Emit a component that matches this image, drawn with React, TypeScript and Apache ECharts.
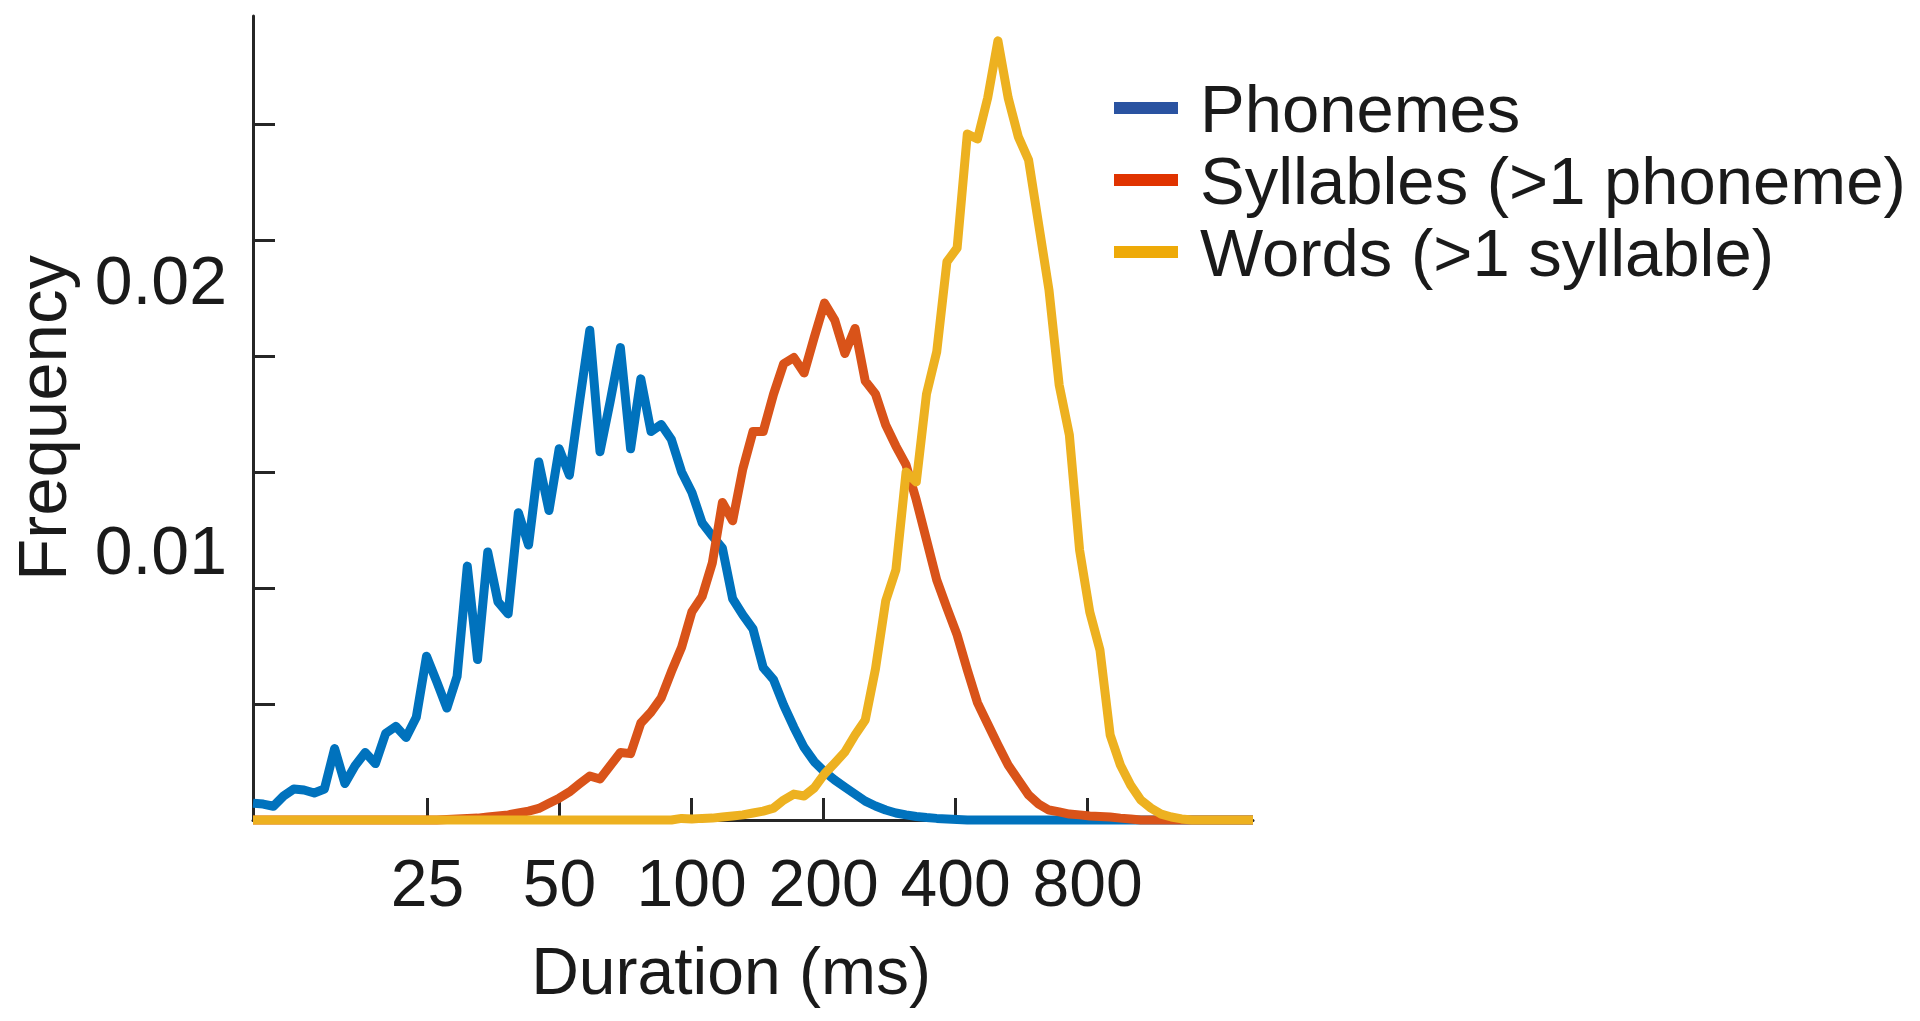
import React, { useEffect, useRef } from "react";
import * as echarts from "echarts";

// Bin centres of the log-spaced histogram (ms)
const durations = [
  10.0, 10.55, 11.13, 11.74, 12.39, 13.07, 13.79, 14.55, 15.35, 16.2,
  17.09, 18.03, 19.02, 20.07, 21.17, 22.34, 23.57, 24.87, 26.24, 27.68,
  29.2, 30.81, 32.51, 34.3, 36.19, 38.18, 40.28, 42.5, 44.84, 47.31,
  49.91, 52.66, 55.56, 58.61, 61.84, 65.24, 68.83, 72.62, 76.62, 80.83,
  85.28, 89.98, 94.93, 100.2, 105.7, 111.5, 117.6, 124.1, 130.9, 138.1,
  145.7, 153.8, 162.2, 171.1, 180.6, 190.5, 201.0, 212.1, 223.7, 236.0,
  249.0, 262.7, 277.2, 292.4, 308.5, 325.5, 343.4, 362.3, 382.3, 403.3,
  425.5, 448.9, 473.6, 499.7, 527.2, 556.2, 586.8, 619.1, 653.2, 689.1,
  727.1, 767.1, 809.3, 853.8, 900.8, 950.4, 1002.7, 1057.9, 1116.1, 1177.5,
  1242.3, 1310.7, 1382.8, 1458.9, 1539.2, 1623.9, 1713.3, 1807.5, 1907.0,
];

const phonemes = [
  0.00062, 0.00059, 0.00051, 0.00089, 0.00115, 0.00111, 0.001, 0.00115, 0.00265, 0.00135,
  0.00201, 0.0025, 0.00209, 0.00321, 0.00347, 0.00306, 0.00381, 0.00607, 0.00513, 0.00415,
  0.00532, 0.00941, 0.00595, 0.00993, 0.00809, 0.00764, 0.01139, 0.01019, 0.01327, 0.01147,
  0.01376, 0.01278, 0.01552, 0.01815, 0.01365, 0.01552, 0.01751, 0.01376, 0.01635, 0.0144,
  0.01466, 0.0141, 0.0129, 0.01214, 0.01102, 0.01053, 0.01008, 0.0082, 0.0076, 0.00708,
  0.00565, 0.0052, 0.00426, 0.00344, 0.00269, 0.00216, 0.00179, 0.00148, 0.00122, 0.00096,
  0.0007, 0.00052, 0.00037, 0.00026, 0.00019, 0.00013, 0.00009, 0.00006, 0.00004, 0.00002,
  0, 0, 0, 0, 0, 0, 0, 0, 0, 0,
  0, 0, 0, 0, 0, 0, 0, 0, 0, 0,
  0, 0, 0, 0, 0, 0, 0, 0, 0,
];

const syllables = [
  0, 0, 0, 0, 0, 0, 0, 0, 0, 0,
  0, 0, 0, 0, 0, 0, 0, 0, 0, 0.00002,
  0.00004, 0.00006, 0.00007, 0.00011, 0.00015, 0.00019, 0.00026, 0.00033, 0.00043, 0.00062,
  0.00081, 0.00104, 0.00134, 0.00163, 0.00152, 0.00201, 0.0025, 0.00246, 0.00359, 0.004,
  0.00453, 0.0055, 0.0064, 0.00772, 0.00828, 0.00952, 0.01177, 0.01109, 0.01301, 0.0144,
  0.0144, 0.01578, 0.01691, 0.01714, 0.01657, 0.01789, 0.01916, 0.01853, 0.01729, 0.01822,
  0.01627, 0.01579, 0.01464, 0.01386, 0.01316, 0.01186, 0.01038, 0.0089, 0.00786, 0.00686,
  0.00556, 0.00434, 0.00356, 0.00278, 0.00204, 0.00148, 0.00093, 0.00059, 0.00037, 0.0003,
  0.00022, 0.00019, 0.00015, 0.00013, 0.00011, 0.00007, 0.00004, 0, 0, 0,
  0, 0, 0, 0, 0, 0, 0, 0, 0,
];

const words = [
  0, 0, 0, 0, 0, 0, 0, 0, 0, 0,
  0, 0, 0, 0, 0, 0, 0, 0, 0, 0,
  0, 0, 0, 0, 0, 0, 0, 0, 0, 0,
  0, 0, 0, 0, 0, 0, 0, 0, 0, 0,
  0, 0, 0.00006, 0.00004, 0.00006, 0.00007, 0.00011, 0.00015, 0.00019, 0.00026,
  0.00033, 0.00044, 0.00074, 0.00096, 0.00089, 0.00119, 0.00171, 0.00211, 0.00252, 0.00315,
  0.00371, 0.0056, 0.00812, 0.00927, 0.0129, 0.01253, 0.01579, 0.01735, 0.02069, 0.0212,
  0.02543, 0.02524, 0.02677, 0.02888, 0.02677, 0.02532, 0.02447, 0.02206, 0.01965, 0.01613,
  0.01427, 0.01001, 0.00771, 0.0063, 0.00315, 0.00204, 0.0013, 0.00074, 0.00044, 0.00022,
  0.00011, 0.00004, 0, 0, 0, 0, 0, 0, 0,
];

const durationTicks = [25, 50, 100, 200, 400, 800];
const frequencyTicks = [0.0043, 0.0086, 0.0129, 0.0172, 0.0215, 0.0258];
const frequencyLabels = [0.01, 0.02];

const seriesNames = ["Phonemes", "Syllables (>1 phoneme)", "Words (>1 syllable)"];
const lineColors = ["#0072BD", "#D95319", "#EDB120"];
const legendColors = ["#2A53A1", "#E03300", "#EEAA08"];

export default function App() {
  const ref = useRef<HTMLDivElement>(null);

  useEffect(() => {
    if (!ref.current) return;
    const chart = echarts.init(ref.current, null, { renderer: "svg" });
    const font = '"Liberation Sans", Arial, Helvetica, sans-serif';
    const ink = "#1a1a1a";
    const axisColor = "#262626";
    const pair = (ys: number[]) => durations.map((d, i) => [d, ys[i]]);
    const allSeries = [phonemes, syllables, words];

    chart.setOption({
      animation: false,
      backgroundColor: "#ffffff",
      textStyle: { fontFamily: font },
      grid: {
        left: 253,
        top: 16,
        width: 1000,
        height: 804,
        containLabel: false,
        outerBoundsMode: "none",
      },
      legend: {
        orient: "vertical",
        left: 1114,
        top: 72,
        padding: 0,
        itemGap: 0,
        itemWidth: 64,
        itemHeight: 12,
        selectedMode: false,
        textStyle: {
          fontSize: 67,
          lineHeight: 72,
          color: ink,
          fontFamily: font,
          padding: [0, 0, 0, 17],
        },
        data: seriesNames.map((name, i) => ({
          name,
          icon: "rect",
          itemStyle: { color: legendColors[i] },
        })),
      },
      xAxis: {
        type: "log",
        logBase: 2,
        min: 10,
        max: 1907,
        axisLine: { show: true, onZero: false, lineStyle: { color: axisColor, width: 3 } },
        axisTick: {
          show: true,
          inside: true,
          length: 22,
          customValues: durationTicks,
          lineStyle: { color: axisColor, width: 3 },
        },
        minorTick: { show: false },
        splitLine: { show: false },
        axisLabel: {
          customValues: durationTicks,
          fontSize: 66,
          color: ink,
          fontFamily: font,
          margin: 30,
          formatter: (v: number) => String(Math.round(v)),
        },
        name: "Duration (ms)",
        nameLocation: "middle",
        nameGap: 118,
        nameTextStyle: { fontSize: 66, color: ink, fontFamily: font, padding: [0, 44, 0, 0] },
      },
      yAxis: {
        type: "value",
        min: 0,
        max: 0.0298,
        axisLine: { show: true, onZero: false, lineStyle: { color: axisColor, width: 3 } },
        axisTick: {
          show: true,
          inside: true,
          length: 22,
          customValues: frequencyTicks,
          lineStyle: { color: axisColor, width: 3 },
        },
        splitLine: { show: false },
        axisLabel: {
          customValues: frequencyLabels,
          fontSize: 68,
          color: ink,
          fontFamily: font,
          margin: 26,
          formatter: (v: number) => v.toFixed(2),
        },
        name: "Frequency",
        nameLocation: "middle",
        nameGap: 176,
        nameTextStyle: { fontSize: 69, color: ink, fontFamily: font },
      },
      series: allSeries.map((ys, i) => ({
        name: seriesNames[i],
        type: "line",
        data: pair(ys),
        showSymbol: false,
        symbol: "none",
        clip: false,
        z: 2 + i,
        lineStyle: { color: lineColors[i], width: 9, join: "round", cap: "butt" },
        itemStyle: { color: lineColors[i] },
      })),
    });

    return () => chart.dispose();
  }, []);

  return (
    <div
      ref={ref}
      style={{ position: "fixed", left: 0, top: 0, width: 1920, height: 1021 }}
    />
  );
}
